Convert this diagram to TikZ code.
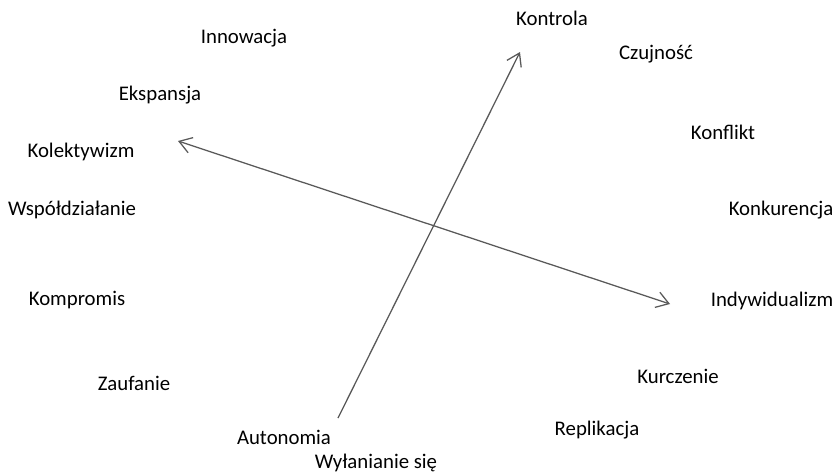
\documentclass[tikz,border=0pt]{standalone}
\usepackage{fontspec}
\setmainfont{Carlito}
\usetikzlibrary{arrows.meta}

\begin{document}
\begin{tikzpicture}[x=0.75pt, y=-0.75pt, font=\fontsize{15.6}{18}\selectfont, lbl/.style={inner sep=0pt, anchor=center}, tip/.tip={Straight Barb[length=3.2mm, width=4.2mm]}, arr/.style={-tip, draw=black!65, line width=0.95pt}]
\useasboundingbox (0,0) rectangle (836,472);
% labels
\node[lbl] (kontrola) at (552,18) {Kontrola};
\node[lbl] (innowacja) at (244,38) {Innowacja};
\node[lbl] (czujnosc) at (656,54) {Czujność};
\node[lbl] (ekspansja) at (160,95) {Ekspansja};
\node[lbl] (konflikt) at (723,132) {Konflikt};
\node[lbl] (kolektywizm) at (81,152) {Kolektywizm};
\node[lbl] (wspoldzialanie) at (72,210) {Współdziałanie};
\node[lbl] (konkurencja) at (781,210) {Konkurencja};
\node[lbl] (kompromis) at (77,300) {Kompromis};
\node[lbl] (indywidualizm) at (772,301) {Indywidualizm};
\node[lbl] (kurczenie) at (678,376) {Kurczenie};
\node[lbl] (zaufanie) at (134,383) {Zaufanie};
\node[lbl] (replikacja) at (597,430) {Replikacja};
\node[lbl] (autonomia) at (284,437) {Autonomia};
\node[lbl] (wylanianie) at (376,463) {Wyłanianie się};
% axes
\coordinate (a1) at (338,418); \coordinate (a2) at (520,52);
\coordinate (b1) at (178,141); \coordinate (b2) at (670,304);
\draw[arr] (a1) -- (a2);
\draw[arr, tip-tip] (b1) -- (b2);
\end{tikzpicture}
\end{document}
